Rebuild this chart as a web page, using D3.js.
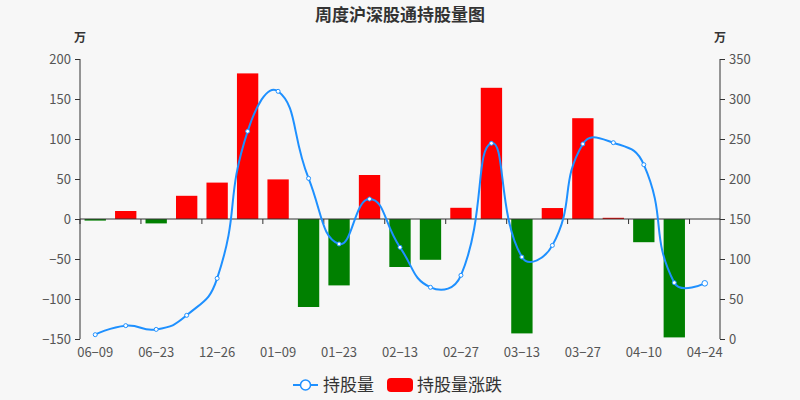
<!DOCTYPE html>
<html>
<head>
<meta charset="utf-8">
<script src="https://cdn.jsdelivr.net/npm/d3@7"></script>
<style>
  html, body { margin: 0; padding: 0; background: #f7f7f7; }
  svg { display: block; font-family: "Noto Sans CJK SC", "Noto Sans", sans-serif; }
</style>
</head>
<body>
<svg id="chart" width="800" height="400"></svg>
<script>
const dates = ["06-09", "06-16", "06-23", "12-19", "12-26", "01-02", "01-09", "01-16", "01-23", "02-06", "02-13",
  "02-20", "02-27", "03-06", "03-13", "03-20", "03-27", "04-03", "04-10", "04-17", "04-24"];
// 持股量 (万), right axis
const holdings = [5.4, 16.7, 12, 29.6, 75.8, 259.6, 309.6, 200.8, 118.8, 175, 114.6,
  64.6, 79.6, 244.6, 102.5, 117, 243.8, 245.4, 217.9, 70.4, 69.6];
// 持股量涨跌 (万), left axis
const changes = [-2, 10, -5.5, 29, 45.5, 182, 49.5, -110, -83, 55, -60,
  -51, 14, 164, -143, 13.7, 126, 1.5, -29, -148, 0];
const leftTicks = [-150, -100, -50, 0, 50, 100, 150, 200];
const rightTicks = [0, 50, 100, 150, 200, 250, 300, 350];

const W = 800, H = 400;
const L = 80, R = 720, T = 59, B = 339;

const svg = d3.select("#chart");
svg.append("rect").attr("width", W).attr("height", H).attr("fill", "#f7f7f7");

const x = d3.scaleBand().domain(dates).range([L, R]).paddingInner(0.3).paddingOuter(0.15);
const step = x.step();
const yL = d3.scaleLinear().domain([-150, 200]).range([B, T]);
const yR = d3.scaleLinear().domain([0, 350]).range([B, T]);

// title
svg.append("text")
  .attr("x", W / 2).attr("y", 21)
  .attr("text-anchor", "middle")
  .attr("font-size", 17).attr("font-weight", "bold").attr("fill", "#333")
  .text("周度沪深股通持股量图");

// unit labels
svg.append("text").attr("x", L).attr("y", 42).attr("text-anchor", "middle")
  .attr("font-size", 12).attr("font-weight", "bold").attr("fill", "#333").text("万");
svg.append("text").attr("x", R).attr("y", 42).attr("text-anchor", "middle")
  .attr("font-size", 12).attr("font-weight", "bold").attr("fill", "#333").text("万");

// left axis
const gl = svg.append("g").attr("transform", `translate(${L},0)`)
  .call(d3.axisLeft(yL).tickValues(leftTicks).tickSize(5).tickPadding(4).tickFormat(d3.format("d")));
// right axis
const gr = svg.append("g").attr("transform", `translate(${R},0)`)
  .call(d3.axisRight(yR).tickValues(rightTicks).tickSize(5).tickPadding(4).tickFormat(d3.format("d")));
[gl, gr].forEach(g => {
  g.select(".domain").attr("stroke", "#333").attr("d", `M0,${T}V${B}`);
  g.selectAll(".tick line").attr("stroke", "#333");
  g.selectAll(".tick text").attr("fill", "#555").attr("font-size", 13)
    .attr("font-family", "\"Noto Sans CJK SC\", sans-serif")
    .text(d => d < 0 ? "\u2212" + Math.abs(d) : d);
});

// bars
svg.append("g").selectAll("rect")
  .data(changes.map((v, i) => ({ d: dates[i], v })))
  .join("rect")
  .attr("x", d => x(d.d))
  .attr("width", x.bandwidth())
  .attr("y", d => yL(Math.max(0, d.v)))
  .attr("height", d => Math.abs(yL(d.v) - yL(0)))
  .attr("fill", d => d.v >= 0 ? "#ff0000" : "#008000");

// category axis on zero line
const y0 = yL(0);
svg.append("line").attr("x1", L).attr("x2", R).attr("y1", y0).attr("y2", y0).attr("stroke", "#333");
const tickIdx = d3.range(0, dates.length + 1, 2);
svg.append("g").selectAll("line").data(tickIdx).join("line")
  .attr("x1", i => L + i * step).attr("x2", i => L + i * step)
  .attr("y1", y0).attr("y2", y0 + 5).attr("stroke", "#333");
svg.append("g").selectAll("text").data(dates.filter((d, i) => i % 2 === 0)).join("text")
  .attr("x", d => x(d) + x.bandwidth() / 2).attr("y", 357)
  .attr("text-anchor", "middle").attr("font-size", 13).attr("fill", "#555")
  .text(d => d.replace("-", "\u2212"));

// smoothed line (echarts-style bezier smoothing)
const pts = holdings.map((v, i) => [x(dates[i]) + x.bandwidth() / 2, yR(v)]);
function smoothPath(points, smooth) {
  const cps = [];
  const n = points.length;
  for (let i = 0; i < n; i++) {
    const p = points[i];
    if (i === 0 || i === n - 1) { cps.push(p.slice()); continue; }
    const pr = points[i - 1], nx = points[i + 1];
    const vx = (nx[0] - pr[0]) * smooth, vy = (nx[1] - pr[1]) * smooth;
    let d0 = Math.hypot(p[0] - pr[0], p[1] - pr[1]);
    let d1 = Math.hypot(p[0] - nx[0], p[1] - nx[1]);
    const s = d0 + d1;
    if (s) { d0 /= s; d1 /= s; }
    cps.push([p[0] - vx * d0, p[1] - vy * d0]);
    cps.push([p[0] + vx * d1, p[1] + vy * d1]);
  }
  const path = d3.path();
  path.moveTo(points[0][0], points[0][1]);
  for (let i = 1; i < n; i++) {
    const c0 = cps[(i - 1) * 2], c1 = cps[(i - 1) * 2 + 1];
    path.bezierCurveTo(c0[0], c0[1], c1[0], c1[1], points[i][0], points[i][1]);
  }
  return path.toString();
}
svg.append("path").attr("d", smoothPath(pts, 0.5))
  .attr("fill", "none").attr("stroke", "#1e90ff").attr("stroke-width", 2);
svg.append("g").selectAll("circle").data(pts).join("circle")
  .attr("cx", d => d[0]).attr("cy", d => d[1])
  .attr("r", (d, i) => i === pts.length - 1 ? 2.8 : 2)
  .attr("fill", "#fff").attr("stroke", "#1e90ff").attr("stroke-width", 1);

// legend
const lg = svg.append("g");
lg.append("line").attr("x1", 293).attr("x2", 318).attr("y1", 385).attr("y2", 385)
  .attr("stroke", "#1e90ff").attr("stroke-width", 2);
lg.append("circle").attr("cx", 305.5).attr("cy", 385).attr("r", 5)
  .attr("fill", "#fff").attr("stroke", "#1e90ff").attr("stroke-width", 1.5);
lg.append("text").attr("x", 323).attr("y", 391).attr("font-size", 17).attr("fill", "#333").text("持股量");
lg.append("rect").attr("x", 387).attr("y", 378).attr("width", 26).attr("height", 14).attr("rx", 4)
  .attr("fill", "#ff0000");
lg.append("text").attr("x", 417).attr("y", 391).attr("font-size", 17).attr("fill", "#333").text("持股量涨跌");
</script>
</body>
</html>
